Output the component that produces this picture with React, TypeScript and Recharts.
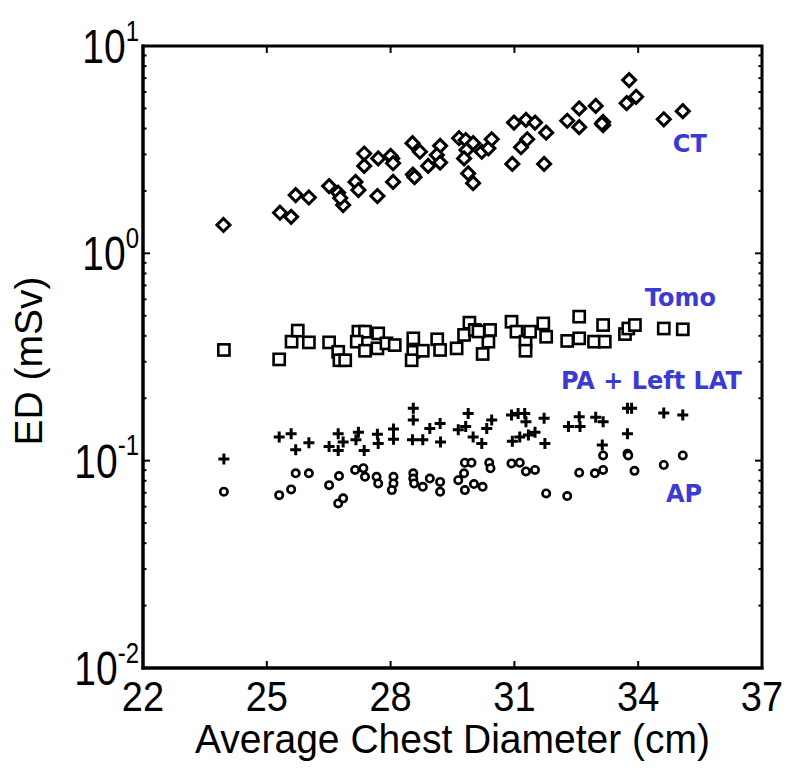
import React from 'react';
import { ScatterChart, Scatter, XAxis, YAxis, ReferenceDot, ReferenceArea, ReferenceLine, Label } from 'recharts';

// tick values
const X_TICKS = [22, 25, 28, 31, 34, 37];
const Y_MAJOR = [0.01, 0.1, 1, 10];
const Y_EXP = ['-2', '-1', '0', '1'];
const Y_MINOR = Y_MAJOR.slice(0, -1).flatMap((d) => [2, 3, 4, 5, 6, 7, 8, 9].map((m) => +(d * m).toPrecision(3)));
const Y_TICKS = [...Y_MAJOR, ...Y_MINOR].sort((a, b) => a - b);

// [chest diameter (cm), ED (mSv)]
const CT: [number, number][] = [
  [23.95, 1.37], [25.32, 1.57], [25.59, 1.5], [25.7, 1.91], [26.02, 1.86], [26.51, 2.11], [26.73, 1.96],
  [26.85, 1.71], [26.78, 1.85], [27.15, 2.21], [27.22, 2.02], [27.36, 3.03], [27.36, 2.64], [27.7, 2.87],
  [27.68, 1.89], [28.04, 2.87], [28.0, 2.95], [28.06, 2.72], [28.06, 2.21], [28.53, 3.4], [28.71, 3.09],
  [28.54, 2.4], [28.58, 2.33], [28.91, 2.64], [29.2, 3.3], [29.12, 2.98], [29.2, 2.74], [29.66, 3.59],
  [29.82, 3.52], [29.84, 3.15], [30.0, 3.4], [29.78, 2.87], [29.88, 2.43], [30.0, 2.18], [30.21, 3.09],
  [30.37, 3.21], [30.45, 3.55], [30.99, 4.27], [31.28, 4.4], [31.5, 4.27], [31.31, 3.55], [31.16, 3.25],
  [31.77, 3.82], [30.95, 2.7], [31.72, 2.7], [32.28, 4.36], [32.57, 5.0], [32.57, 4.06], [32.97, 5.14],
  [33.15, 4.3], [33.15, 4.15], [33.12, 4.22], [33.78, 6.85], [33.72, 5.3], [33.95, 5.69], [34.62, 4.43],
  [35.08, 4.85],
];

const TOMO: [number, number][] = [
  [23.96, 0.342], [25.3, 0.308], [25.6, 0.375], [25.75, 0.424], [26.02, 0.372], [26.51, 0.372], [26.73, 0.335],
  [26.76, 0.305], [26.9, 0.305], [27.22, 0.419], [27.38, 0.419], [27.18, 0.375], [27.38, 0.339], [27.7, 0.411],
  [27.68, 0.348], [27.9, 0.368], [28.1, 0.361], [28.55, 0.389], [28.55, 0.335], [28.51, 0.305], [28.78, 0.339],
  [29.13, 0.385], [29.2, 0.342], [29.6, 0.348], [29.78, 0.404], [29.91, 0.463], [30.04, 0.427], [30.23, 0.327],
  [30.41, 0.427], [30.37, 0.375], [30.13, 0.42], [30.93, 0.468], [31.05, 0.419], [31.27, 0.375], [31.27, 0.339],
  [31.38, 0.419], [31.7, 0.459], [31.77, 0.396], [32.28, 0.378], [32.57, 0.495], [32.57, 0.389], [32.93, 0.375],
  [33.15, 0.451], [33.19, 0.375], [33.68, 0.408], [33.76, 0.434], [33.92, 0.451], [34.62, 0.434], [35.08, 0.43],
];

const PA_LAT: [number, number][] = [
  [23.96, 0.102], [25.3, 0.13], [25.59, 0.135], [25.7, 0.113], [26.02, 0.122], [26.51, 0.117], [26.73, 0.135],
  [26.73, 0.112], [26.85, 0.123], [27.22, 0.137], [27.16, 0.126], [27.36, 0.112], [27.68, 0.134], [27.7, 0.121],
  [28.07, 0.142], [28.07, 0.127], [28.55, 0.179], [28.55, 0.157], [28.53, 0.126], [28.78, 0.126], [28.95, 0.143],
  [29.2, 0.151], [29.21, 0.123], [29.64, 0.141], [29.88, 0.169], [29.82, 0.146], [30.0, 0.13], [30.21, 0.121],
  [30.33, 0.143], [30.45, 0.157], [30.93, 0.166], [31.09, 0.169], [31.25, 0.169], [31.28, 0.154], [31.13, 0.13],
  [31.34, 0.133], [31.5, 0.137], [31.72, 0.16], [30.95, 0.124], [31.74, 0.121], [32.31, 0.146], [32.57, 0.163],
  [32.59, 0.146], [32.97, 0.162], [33.15, 0.154], [33.13, 0.119], [33.74, 0.179], [33.84, 0.179], [33.74, 0.135],
  [34.62, 0.17], [35.08, 0.166],
];

const AP: [number, number][] = [
  [23.96, 0.0708], [25.3, 0.0682], [25.59, 0.0727], [25.7, 0.0869], [26.02, 0.0869], [26.51, 0.0762],
  [26.75, 0.0843], [26.73, 0.0622], [26.85, 0.0658], [27.14, 0.0902], [27.34, 0.0919], [27.38, 0.0836],
  [27.66, 0.0836], [27.7, 0.0776], [28.07, 0.0836], [28.07, 0.0776], [28.03, 0.0721], [28.55, 0.0869],
  [28.55, 0.082], [28.57, 0.0776], [28.78, 0.0748], [28.95, 0.082], [29.2, 0.079], [29.2, 0.0708],
  [29.64, 0.0805], [29.8, 0.0977], [29.96, 0.0977], [29.78, 0.0869], [29.8, 0.0721], [30.02, 0.0771],
  [30.23, 0.0748], [30.39, 0.0977], [30.42, 0.0919], [30.93, 0.097], [31.13, 0.0977], [31.28, 0.0887],
  [31.5, 0.0902], [31.77, 0.0695], [32.28, 0.0675], [32.57, 0.0875], [32.95, 0.0869], [33.15, 0.0902],
  [33.15, 0.106], [33.74, 0.108], [33.76, 0.106], [33.91, 0.0893], [34.62, 0.0953], [35.08, 0.106],
];

// series names and where they sit
const LABELS = [
  { text: 'CT', x: 35.25, y: 3.08 },
  { text: 'Tomo', x: 35.02, y: 0.557 },
  { text: 'PA + Left LAT', x: 34.32, y: 0.221 },
  { text: 'AP', x: 35.11, y: 0.0631 },
];

const toPts = (arr: [number, number][]) => arr.map(([x, y]) => ({ x, y }));

const FONT = '"Liberation Sans", Arial, sans-serif';
// recharts puts a tick's props this far from the axis line (tickSize + tickMargin)
const OFF = 8;
const isMajor = (v: number) => Y_MAJOR.some((m) => Math.abs(m - v) < m * 1e-6);
// inward tick lengths for the mirrored top / right sides, in data units
const X_TICK_LEN = 0.17;
const Y_TICK_FACTOR = 1.08;

const Diamond = (p: any) => (
  <polygon
    points={`${p.cx},${p.cy - 6.5} ${p.cx + 6.5},${p.cy} ${p.cx},${p.cy + 6.5} ${p.cx - 6.5},${p.cy}`}
    fill="#fff" stroke="#000" strokeWidth={3}
  />
);
const Square = (p: any) => (
  <rect x={p.cx - 5.6} y={p.cy - 5.6} width={11.2} height={11.2} fill="#fff" stroke="#000" strokeWidth={2.6} />
);
const Plus = (p: any) => (
  <path d={`M${p.cx - 5.5},${p.cy}H${p.cx + 5.5}M${p.cx},${p.cy - 5.5}V${p.cy + 5.5}`} stroke="#000" strokeWidth={3} fill="none" />
);
const Ring = (p: any) => <circle cx={p.cx} cy={p.cy} r={3.7} fill="#fff" stroke="#000" strokeWidth={2.6} />;

const BottomTick = (p: any) => {
  const y = p.y - OFF;
  return (
    <g>
      <line x1={p.x} y1={y} x2={p.x} y2={y - 7} stroke="#000" strokeWidth={2} />
      <text transform={`translate(${p.x},${y + 43}) scale(1,1.1)`} textAnchor="middle" fontSize={38} fontFamily={FONT} fill="#000">
        {p.payload.value}
      </text>
    </g>
  );
};

const LeftTick = (p: any) => {
  const x = p.x + OFF;
  const v = p.payload.value;
  const i = Y_MAJOR.findIndex((m) => Math.abs(m - v) < m * 1e-6);
  const major = i >= 0;
  return (
    <g>
      <line x1={x} y1={p.y} x2={x + (major ? 7 : 3.5)} y2={p.y} stroke="#000" strokeWidth={2} />
      {major && (
        <text transform={`translate(${x - 4},${p.y + 17}) scale(1,1.25)`} textAnchor="end" fontSize={39} fontFamily={FONT} fill="#000">
          10<tspan dy={-18} fontSize={24}>{Y_EXP[i]}</tspan>
        </text>
      )}
    </g>
  );
};

const axisLine = { stroke: '#000', strokeWidth: 3, strokeLinecap: 'square' as const };

export default function App() {
  return (
    <div style={{ position: 'absolute', left: 0, top: 0, background: '#fff' }}>
      <ScatterChart width={800} height={781} margin={{ top: 46, right: 38, bottom: 0, left: 0 }}>
        <XAxis
          dataKey="x" type="number" domain={[22, 37]} ticks={X_TICKS} interval={0} allowDataOverflow
          height={113} tickSize={6} tickMargin={2} tickLine={false} axisLine={axisLine} tick={BottomTick}
        >
          <Label
            content={(p: any) => (
              <text transform={`translate(${p.viewBox.x + p.viewBox.width / 2},${p.viewBox.y + 85}) scale(1,1.05)`}
                textAnchor="middle" fontSize={39} fontFamily={FONT} fill="#000">
                Average Chest Diameter (cm)
              </text>
            )}
          />
        </XAxis>
        <YAxis
          dataKey="y" type="number" scale="log" domain={[0.01, 10]} ticks={Y_TICKS} interval={0} allowDataOverflow
          width={143} tickSize={6} tickMargin={2} tickLine={false} axisLine={axisLine} tick={LeftTick}
        >
          <Label
            content={(p: any) => {
              const cy = p.viewBox.y + p.viewBox.height / 2 + 4;
              return (
                <text x={42} y={cy} transform={`rotate(-90, 42, ${cy})`} textAnchor="middle"
                  fontSize={39} fontFamily={FONT} fill="#000">
                  ED (mSv)
                </text>
              );
            }}
          />
        </YAxis>
        <ReferenceArea x1={22} x2={37} y1={0.01} y2={10} fill="none" stroke="#000" strokeWidth={3} ifOverflow="visible" />
        {/* mirrored inward ticks on the top and right edges of the box */}
        {X_TICKS.slice(1, -1).map((t) => (
          <ReferenceLine key={`top-${t}`} segment={[{ x: t, y: 10 }, { x: t, y: 10 / Y_TICK_FACTOR }]}
            stroke="#000" strokeWidth={2} ifOverflow="visible" />
        ))}
        {Y_TICKS.map((t) => (
          <ReferenceLine key={`right-${t}`}
            segment={[{ x: 37, y: t }, { x: 37 - (isMajor(t) ? X_TICK_LEN : X_TICK_LEN / 2), y: t }]}
            stroke="#000" strokeWidth={2} ifOverflow="visible" />
        ))}
        <Scatter data={toPts(TOMO)} shape={Square} isAnimationActive={false} />
        <Scatter data={toPts(AP)} shape={Ring} isAnimationActive={false} />
        <Scatter data={toPts(PA_LAT)} shape={Plus} isAnimationActive={false} />
        <Scatter data={toPts(CT)} shape={Diamond} isAnimationActive={false} />
        {LABELS.map((l) => (
          <ReferenceDot
            key={l.text} x={l.x} y={l.y} r={0} ifOverflow="visible"
            shape={(p: any) => (
              <text x={p.cx} y={p.cy} textAnchor="middle" fontSize={24} fontWeight="bold"
                fontFamily='"DejaVu Sans", sans-serif' fill="#3b3bd4">
                {l.text}
              </text>
            )}
          />
        ))}
      </ScatterChart>
    </div>
  );
}
